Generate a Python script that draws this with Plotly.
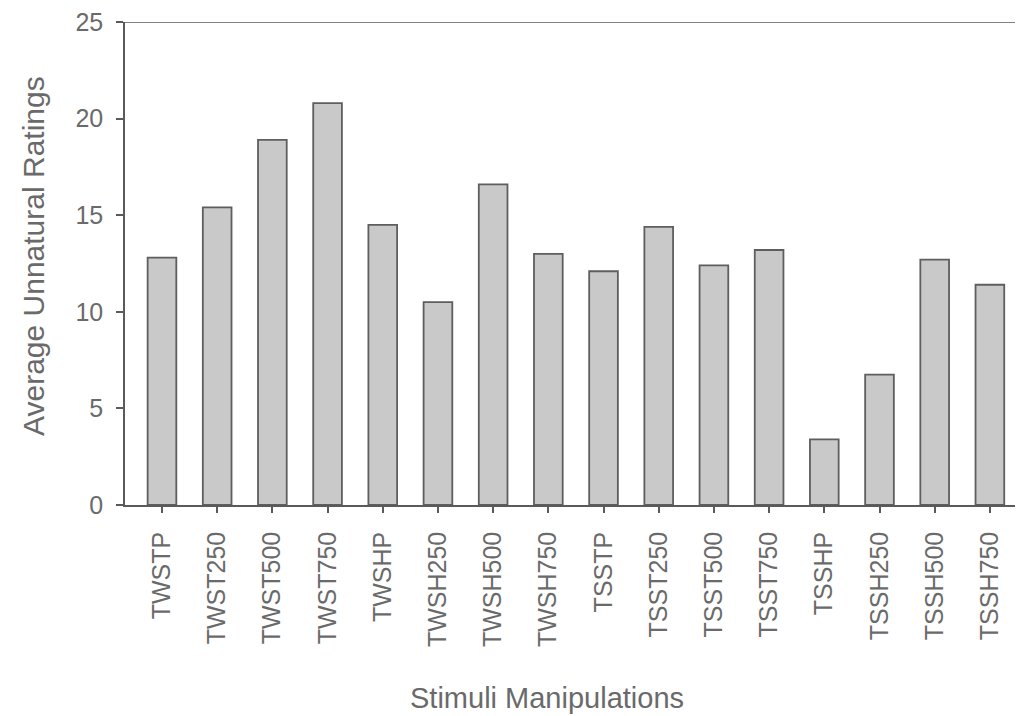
import plotly.graph_objects as go

categories = ["TWSTP", "TWST250", "TWST500", "TWST750", "TWSHP", "TWSH250", "TWSH500", "TWSH750",
              "TSSTP", "TSST250", "TSST500", "TSST750", "TSSHP", "TSSH250", "TSSH500", "TSSH750"]
ratings = [12.8, 15.4, 18.9, 20.8, 14.5, 10.5, 16.6, 13.0,
           12.1, 14.4, 12.4, 13.2, 3.4, 6.75, 12.7, 11.4]
y_ticks = [0, 5, 10, 15, 20, 25]

FONT = "Liberation Sans, Arial, sans-serif"
GREY = "#6a6a6a"
AXC = "#5a5a5a"

fig = go.Figure()
fig.add_trace(go.Bar(
    x=categories, y=ratings, width=0.52,
    marker=dict(color="#c9c9c9", line=dict(color="#5e5e5e", width=1.8)),
))

fig.update_layout(
    width=1015, height=708,
    margin=dict(l=117, r=0, t=14, b=211),
    paper_bgcolor="white", plot_bgcolor="white",
    showlegend=False,
    font=dict(family=FONT, color=GREY),
    xaxis=dict(
        type="category", range=[-0.67, 15.6],
        showline=True, linecolor=AXC, linewidth=1.6,
        ticks="outside", ticklen=6, tickcolor=AXC, tickwidth=1.5,
        tickangle=-90, tickfont=dict(size=25, color=GREY, family=FONT),
        showgrid=False, zeroline=False, ticklabelstandoff=9,
    ),
    yaxis=dict(
        range=[0, 25], tickvals=y_ticks,
        showline=True, linecolor=AXC, linewidth=1.6,
        ticks="outside", ticklen=7, tickcolor=AXC, tickwidth=1.5,
        tickfont=dict(size=25, color=GREY, family=FONT),
        showgrid=False, zeroline=False, ticklabelstandoff=8,
        ticklabeloverflow="allow",
    ),
    shapes=[dict(type="line", xref="paper", yref="y", x0=-0.0078, x1=1, y0=25, y1=25,
                 line=dict(color=AXC, width=1.6))],
    annotations=[
        dict(text="Average Unnatural Ratings", xref="paper", yref="paper",
             x=-0.1025, y=0.5155, textangle=-90, showarrow=False,
             xanchor="center", yanchor="middle",
             font=dict(size=30, color=GREY, family=FONT)),
        dict(text="Stimuli Manipulations", xref="paper", yref="paper",
             x=0.47, y=-0.3996, showarrow=False, xanchor="center", yanchor="middle",
             font=dict(size=29, color=GREY, family=FONT)),
    ],
)

fig.write_html("out.html")
